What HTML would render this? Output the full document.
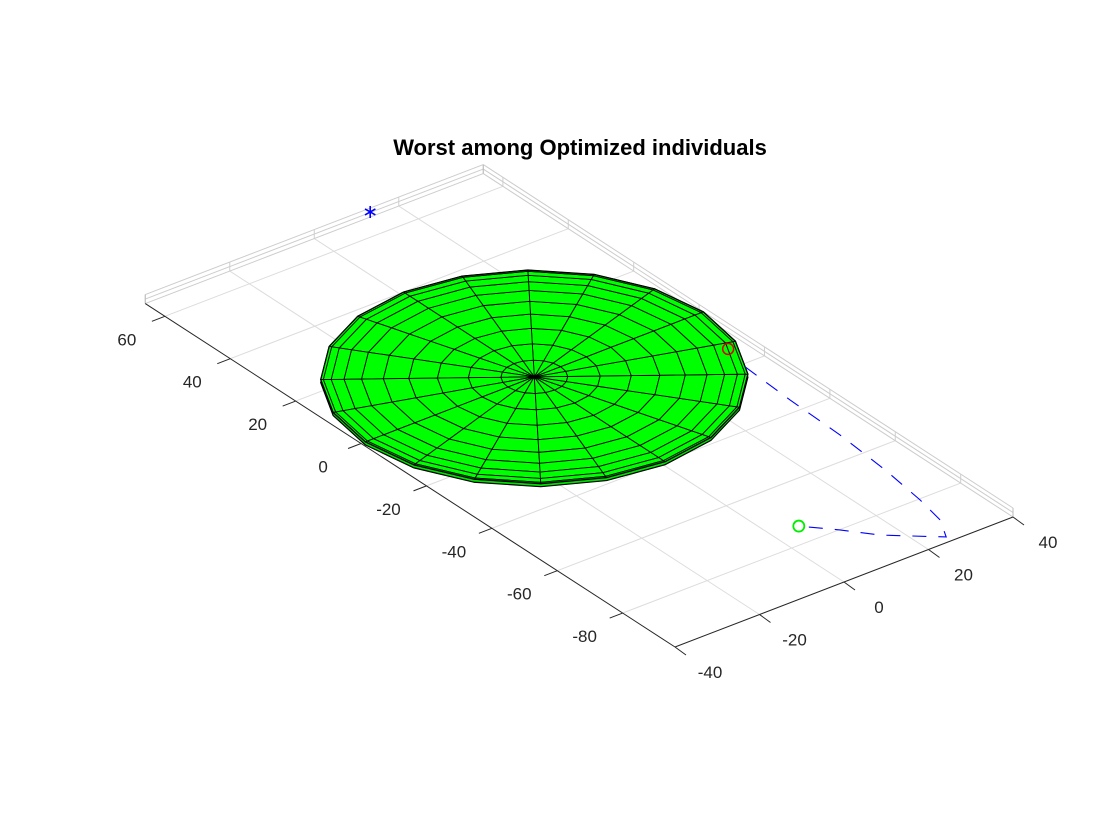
<!DOCTYPE html>
<html><head><meta charset="utf-8"><style>
html,body{margin:0;padding:0;background:#fff;}
svg{display:block;font-family:"Liberation Sans",sans-serif;}
</style></head><body>
<svg id="chart" width="1120" height="840" viewBox="0 0 1120 840"></svg>
<script>
// ---- data ----
const xTicks = [-40, -20, 0, 20, 40];
const yTicks = [60, 40, 20, 0, -20, -40, -60, -80];
const xRange = [-40, 40];
const yRange = [-96, 66];
const diskCenter = [1, 0];
const diskRadius = [40];
const pathX = [34.6, 33.7, 33.1, 31.8, 30.1, 28.5, 25.5, 16.1, 11.3, 6.1];
const pathY = [-21.1, -36, -52, -67.5, -80.4, -88.6, -94.3, -86.2, -80.1, -74.3];
const startPoint = [6.1, -74.3];
const endPoint = [36.2, -13.8];
const targetPoint = [14.4, 67.5];

const NS = "http://www.w3.org/2000/svg";
const svg = document.getElementById('chart');
const O = [675, 647];
const EX = [4.225, -1.625], EY = [-3.27, -2.12];
function P(x, y, z) { z = z || 0; const a = x - xRange[0], b = y - yRange[0];
  return [O[0] + a * EX[0] + b * EY[0], O[1] + a * EX[1] + b * EY[1] - z]; }
function el(tag, attrs, parent) { const e = document.createElementNS(NS, tag);
  for (const k in attrs) e.setAttribute(k, attrs[k]); (parent || svg).appendChild(e); return e; }
function line(p, q, stroke, w, name, parent) {
  const l = el('line', {x1: p[0], y1: p[1], x2: q[0], y2: q[1], stroke: stroke, 'stroke-width': w}, parent);
  
  
  return l;
}
const X0 = xRange[0], X1 = xRange[1], Y0 = yRange[0], Y1 = yRange[1];
const ZT = 9;
const grid = el('g', {});


xTicks.forEach(t => { if (t > X0 && t < X1) line(P(t, Y0), P(t, Y1), '#dcdcdc', 1, 'x-gridline', grid);
  line(P(t, Y1), P(t, Y1, ZT), '#cfcfcf', 1, 'x-wall-gridline', grid); });
yTicks.forEach(t => { line(P(X0, t), P(X1, t), '#dcdcdc', 1, 'y-gridline', grid);
  line(P(X1, t), P(X1, t, ZT), '#cfcfcf', 1, 'y-wall-gridline', grid); });
[0, 4.5, ZT].forEach(z => {
  line(P(X0, Y1, z), P(X1, Y1, z), '#cccccc', 1, 'back-wall-line', grid);
  line(P(X1, Y1, z), P(X1, Y0, z), '#cccccc', 1, 'side-wall-line', grid);
});
line(P(X0, Y1), P(X0, Y1, ZT), '#bbbbbb', 1, 'wall-edge', grid);
line(P(X1, Y1), P(X1, Y1, ZT), '#bbbbbb', 1, 'wall-edge', grid);
line(P(X1, Y0), P(X1, Y0, ZT), '#bbbbbb', 1, 'wall-edge', grid);
const ax = el('g', {});


line(P(X0, Y1), P(X0, Y0), '#262626', 1, 'y-axis-line', ax);
line(P(X0, Y0), P(X1, Y0), '#262626', 1, 'x-axis-line', ax);
yTicks.forEach(t => { const p = P(X0, t);
  line(p, [p[0] - 13, p[1] + 5], '#262626', 1, 'y-tick', ax);
  const tx = el('text', {x: p[0] - 38, y: p[1] + 29, 'text-anchor': 'middle', 'font-size': 17, fill: '#262626'}, ax);
  
  
  tx.textContent = t; });
xTicks.forEach(t => { const p = P(t, Y0);
  line(p, [p[0] + 11, p[1] + 8], '#262626', 1, 'x-tick', ax);
  const tx = el('text', {x: p[0] + 35, y: p[1] + 31, 'text-anchor': 'middle', 'font-size': 17, fill: '#262626'}, ax);
  
  
  tx.textContent = t; });
const disk = el('g', {});


const NS_ = 20, NR = 10;
function dp(r, th, z) { return P(diskCenter[0] + r * Math.cos(th), diskCenter[1] + r * Math.sin(th), z); }
const R = diskRadius[0];
function ringR(j) { return R * Math.sin(j / NR * Math.PI / 2); }
let rim = [], rim2 = [];
for (let i = 0; i <= NS_; i++) { const th = i / NS_ * 2 * Math.PI; rim.push(dp(R, th, 0).join(',')); rim2.push(dp(R, th, -3).join(',')); }
const rb = el('polygon', {points: rim2.join(' '), fill: '#00e000', stroke: '#000', 'stroke-width': 1.2}, disk);


for (let j = 0; j < NR; j++) for (let i = 0; i < NS_; i++) {
  const r0 = ringR(j), r1 = ringR(j + 1), t0 = i / NS_ * 2 * Math.PI, t1 = (i + 1) / NS_ * 2 * Math.PI;
  const pts = [dp(r0, t0), dp(r1, t0), dp(r1, t1), dp(r0, t1)].map(p => p.join(',')).join(' ');
  const c = el('polygon', {points: pts, fill: '#00ff00', stroke: '#000', 'stroke-width': 0.9, 'stroke-linejoin': 'round'}, disk);
  
  
}
const ro = el('polygon', {points: rim.join(' '), fill: 'none', stroke: '#000', 'stroke-width': 1.3}, disk);


const pp = pathX.map((x, i) => P(x, pathY[i]).join(',')).join(' ');
const pl = el('polyline', {points: pp, fill: 'none', stroke: '#0000ff', 'stroke-width': 1.1, 'stroke-dasharray': '14,12'});


const s = P(startPoint[0], startPoint[1]);
const sm = el('circle', {cx: s[0], cy: s[1], r: 5.5, fill: 'none', stroke: '#00ee00', 'stroke-width': 1.8});


const e = P(endPoint[0], endPoint[1]);
const em = el('circle', {cx: e[0], cy: e[1], r: 5.5, fill: 'none', stroke: '#dd0000', 'stroke-width': 1.5});


const t = P(targetPoint[0], targetPoint[1]);
const tg = el('g', {stroke: '#0000ff', 'stroke-width': 1.6});


[[0, 6], [5.2, 3], [5.2, -3]].forEach(d => el('line', {x1: t[0] - d[0], y1: t[1] - d[1], x2: t[0] + d[0], y2: t[1] + d[1]}, tg));
const ti = el('text', {x: 580, y: 155, 'text-anchor': 'middle', 'font-size': 22, 'font-weight': 'bold', fill: '#000'});


ti.textContent = 'Worst among Optimized individuals';
</script>
</body></html>
